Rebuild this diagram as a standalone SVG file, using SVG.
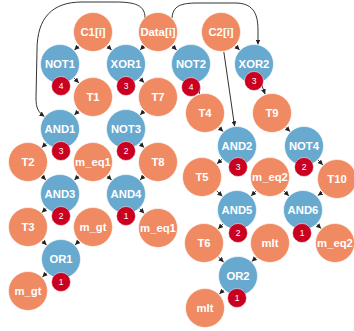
<svg xmlns="http://www.w3.org/2000/svg" width="354" height="331" viewBox="0 0 354 331">
  <defs>
    <marker id="arrow" markerUnits="userSpaceOnUse" markerWidth="5" markerHeight="5" refX="5" refY="2.5" orient="auto">
      <path d="M0,0 L5,2.5 L0,5 z" fill="#222"/>
    </marker>
    <style>
      .edge { stroke: #333; stroke-width: 1; fill: none; marker-end: url(#arrow); }
      .var circle { fill: #ef8a62; stroke: #fff; stroke-width: 0.6; }
      .op circle { fill: #67a9cf; stroke: #fff; stroke-width: 0.6; }
      .lbl { font-family: "Liberation Sans", Arial, sans-serif; font-weight: bold; font-size: 11.3px; fill: #fff; text-anchor: middle; }
      .badge circle { fill: #ca0020; stroke: #fff; stroke-width: 0.5; }
      .badge text { font-family: "Liberation Sans", Arial, sans-serif; font-size: 8.5px; fill: #fff; text-anchor: middle; }
    </style>
  </defs>
  <rect width="354" height="331" fill="#fff"/>

  <!-- connectors -->
  <g id="edges">
    <line class="edge" x1="78.6" y1="45.9" x2="74.4" y2="50.1"/>
    <line class="edge" x1="107.4" y1="45.9" x2="111.6" y2="50.1"/>
    <line class="edge" x1="143.9" y1="46.1" x2="140.1" y2="49.9"/>
    <line class="edge" x1="172.4" y1="45.9" x2="176.6" y2="50.1"/>
    <line class="edge" x1="235.4" y1="45.9" x2="239.6" y2="50.1"/>
    <line class="edge" x1="74.1" y1="78.1" x2="78.9" y2="82.9"/>
    <line class="edge" x1="139.9" y1="78.4" x2="144.1" y2="82.6"/>
    <line class="edge" x1="196.5" y1="83.2" x2="199.5" y2="93.8"/>
    <line class="edge" x1="260.9" y1="82.8" x2="265.1" y2="94.2"/>
    <line class="edge" x1="78.6" y1="110.9" x2="74.4" y2="115.1"/>
    <line class="edge" x1="143.9" y1="111.1" x2="140.1" y2="114.9"/>
    <line class="edge" x1="218.9" y1="127.4" x2="223.1" y2="131.6"/>
    <line class="edge" x1="285.9" y1="127.4" x2="290.1" y2="131.6"/>
    <line class="edge" x1="46.1" y1="143.4" x2="41.9" y2="147.6"/>
    <line class="edge" x1="139.9" y1="143.4" x2="144.1" y2="147.6"/>
    <line class="edge" x1="222" y1="159.3" x2="217" y2="163.7"/>
    <line class="edge" x1="318.1" y1="160.1" x2="322.9" y2="164.9"/>
    <line class="edge" x1="42.1" y1="176.1" x2="45.9" y2="179.9"/>
    <line class="edge" x1="78.6" y1="175.9" x2="74.4" y2="180.1"/>
    <line class="edge" x1="107.4" y1="175.9" x2="111.6" y2="180.1"/>
    <line class="edge" x1="143.9" y1="176.1" x2="140.1" y2="179.9"/>
    <line class="edge" x1="216.6" y1="190.7" x2="222.4" y2="196.3"/>
    <line class="edge" x1="255.9" y1="191.1" x2="251.1" y2="195.9"/>
    <line class="edge" x1="284.1" y1="191.1" x2="288.9" y2="195.9"/>
    <line class="edge" x1="322.2" y1="192.5" x2="317.8" y2="195.5"/>
    <line class="edge" x1="46.1" y1="208.4" x2="41.9" y2="212.6"/>
    <line class="edge" x1="139.7" y1="208.6" x2="144.3" y2="213.4"/>
    <line class="edge" x1="222.9" y1="224.1" x2="218.1" y2="228.9"/>
    <line class="edge" x1="316.9" y1="224.4" x2="321.1" y2="228.6"/>
    <line class="edge" x1="42.4" y1="240.9" x2="46.6" y2="245.1"/>
    <line class="edge" x1="78.9" y1="241.1" x2="75.1" y2="244.9"/>
    <line class="edge" x1="218.3" y1="256.9" x2="223.7" y2="262.1"/>
    <line class="edge" x1="256.1" y1="257.4" x2="251.9" y2="261.6"/>
    <line class="edge" x1="46.6" y1="272.9" x2="42.4" y2="277.1"/>
    <line class="edge" x1="223.6" y1="289.9" x2="219.4" y2="294.1"/>
    <!-- long links -->
    <path class="edge" d="M145,18 C145,5 135,2 115,2 L82,2 C52,2 37,18 37,50 L36,98 C36,108 38,112 44.5,116.5"/>
    <path class="edge" d="M172,18 C173,6 180,3 198,3 L235,3 C252,3 258,12 258,30 L258,44.5"/>
    <line class="edge" x1="223.8" y1="51.8" x2="234.6" y2="126.3"/>
  </g>

  <!-- nodes -->
  <g id="C1" class="var"><circle cx="93" cy="32" r="19.5"/><text class="lbl" x="93" y="36">C1[i]</text></g>
  <g id="Data" class="var"><circle cx="158" cy="32" r="19.5"/><text class="lbl" x="158" y="36">Data[i]</text></g>
  <g id="C2" class="var"><circle cx="221" cy="32" r="19.5"/><text class="lbl" x="221" y="36">C2[i]</text></g>

  <g id="NOT1" class="op"><circle cx="60" cy="64" r="19.5"/><text class="lbl" x="60" y="68">NOT1</text>
    <g class="badge"><circle cx="61" cy="86" r="9.5"/><text x="61" y="89">4</text></g></g>
  <g id="XOR1" class="op"><circle cx="126" cy="64" r="19.5"/><text class="lbl" x="126" y="68">XOR1</text>
    <g class="badge"><circle cx="126" cy="86" r="9.5"/><text x="126" y="89">3</text></g></g>
  <g id="NOT2" class="op"><circle cx="191" cy="64" r="19.5"/><text class="lbl" x="191" y="68">NOT2</text>
    <g class="badge"><circle cx="191" cy="87" r="9.5"/><text x="191" y="90">4</text></g></g>
  <g id="XOR2" class="op"><circle cx="254" cy="64" r="19.5"/><text class="lbl" x="254" y="68">XOR2</text>
    <g class="badge"><circle cx="254" cy="81" r="9.5"/><text x="254" y="84">3</text></g></g>

  <g id="T1" class="var"><circle cx="93" cy="97" r="19.5"/><text class="lbl" x="93" y="101">T1</text></g>
  <g id="T7" class="var"><circle cx="158" cy="97" r="19.5"/><text class="lbl" x="158" y="101">T7</text></g>
  <g id="T4" class="var"><circle cx="205" cy="113" r="19.5"/><text class="lbl" x="205" y="117">T4</text></g>
  <g id="T9" class="var"><circle cx="272" cy="113" r="19.5"/><text class="lbl" x="272" y="117">T9</text></g>

  <g id="AND1" class="op"><circle cx="60" cy="129" r="19.5"/><text class="lbl" x="60" y="133">AND1</text>
    <g class="badge"><circle cx="61" cy="151" r="9.5"/><text x="61" y="154">3</text></g></g>
  <g id="NOT3" class="op"><circle cx="126" cy="129" r="19.5"/><text class="lbl" x="126" y="133">NOT3</text>
    <g class="badge"><circle cx="126" cy="151" r="9.5"/><text x="126" y="154">2</text></g></g>
  <g id="AND2" class="op"><circle cx="237" cy="146" r="19.5"/><text class="lbl" x="237" y="150">AND2</text>
    <g class="badge"><circle cx="238" cy="167" r="9.5"/><text x="238" y="170">3</text></g></g>
  <g id="NOT4" class="op"><circle cx="304" cy="146" r="19.5"/><text class="lbl" x="304" y="150">NOT4</text>
    <g class="badge"><circle cx="304" cy="167" r="9.5"/><text x="304" y="170">2</text></g></g>

  <g id="T2" class="var"><circle cx="28" cy="162" r="19.5"/><text class="lbl" x="28" y="166">T2</text></g>
  <g id="m_eq1" class="var"><circle cx="93" cy="162" r="19.5"/><text class="lbl" x="93" y="166">m_eq1</text></g>
  <g id="T8" class="var"><circle cx="158" cy="162" r="19.5"/><text class="lbl" x="158" y="166">T8</text></g>
  <g id="T5" class="var"><circle cx="202" cy="177" r="19.5"/><text class="lbl" x="202" y="181">T5</text></g>
  <g id="m_eq2" class="var"><circle cx="270" cy="177" r="19.5"/><text class="lbl" x="270" y="181">m_eq2</text></g>
  <g id="T10" class="var"><circle cx="337" cy="179" r="19.5"/><text class="lbl" x="337" y="183">T10</text></g>

  <g id="AND3" class="op"><circle cx="60" cy="194" r="19.5"/><text class="lbl" x="60" y="198">AND3</text>
    <g class="badge"><circle cx="61" cy="216" r="9.5"/><text x="61" y="219">2</text></g></g>
  <g id="AND4" class="op"><circle cx="126" cy="194" r="19.5"/><text class="lbl" x="126" y="198">AND4</text>
    <g class="badge"><circle cx="126" cy="216" r="9.5"/><text x="126" y="219">1</text></g></g>
  <g id="AND5" class="op"><circle cx="237" cy="210" r="19.5"/><text class="lbl" x="237" y="214">AND5</text>
    <g class="badge"><circle cx="238" cy="233" r="9.5"/><text x="238" y="236">2</text></g></g>
  <g id="AND6" class="op"><circle cx="303" cy="210" r="19.5"/><text class="lbl" x="303" y="214">AND6</text>
    <g class="badge"><circle cx="302" cy="233" r="9.5"/><text x="302" y="236">1</text></g></g>

  <g id="T3" class="var"><circle cx="28" cy="227" r="19.5"/><text class="lbl" x="28" y="231">T3</text></g>
  <g id="m_gt" class="var"><circle cx="93" cy="227" r="19.5"/><text class="lbl" x="93" y="231">m_gt</text></g>
  <g id="m_eq1_out" class="var"><circle cx="158" cy="228" r="19.5"/><text class="lbl" x="158" y="232">m_eq1</text></g>
  <g id="T6" class="var"><circle cx="204" cy="243" r="19.5"/><text class="lbl" x="204" y="247">T6</text></g>
  <g id="mlt" class="var"><circle cx="270" cy="243" r="19.5"/><text class="lbl" x="270" y="247">mlt</text></g>
  <g id="m_eq2_out" class="var"><circle cx="335" cy="243" r="19.5"/><text class="lbl" x="335" y="247">m_eq2</text></g>

  <g id="OR1" class="op"><circle cx="61" cy="259" r="19.5"/><text class="lbl" x="61" y="263">OR1</text>
    <g class="badge"><circle cx="61" cy="282" r="9.5"/><text x="61" y="285">1</text></g></g>
  <g id="OR2" class="op"><circle cx="238" cy="276" r="19.5"/><text class="lbl" x="238" y="280">OR2</text>
    <g class="badge"><circle cx="237" cy="298" r="9.5"/><text x="237" y="301">1</text></g></g>

  <g id="m_gt_out" class="var"><circle cx="28" cy="291" r="19.5"/><text class="lbl" x="28" y="295">m_gt</text></g>
  <g id="mlt_out" class="var"><circle cx="205" cy="308" r="19.5"/><text class="lbl" x="205" y="312">mlt</text></g>
</svg>
